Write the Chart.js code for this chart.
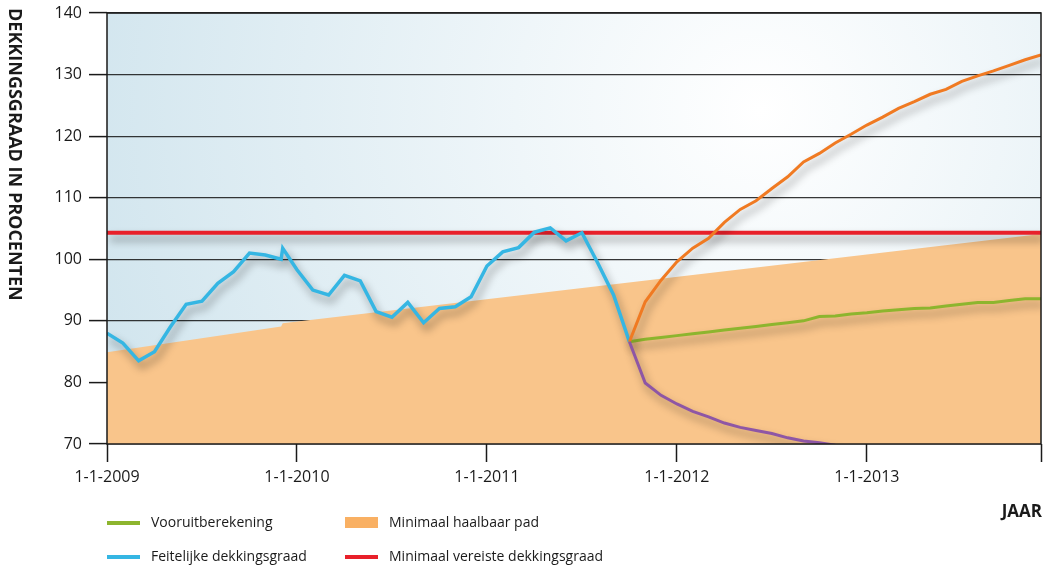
<!DOCTYPE html>
<html>
<head>
<meta charset="utf-8">
<script src="https://cdn.jsdelivr.net/npm/chart.js@4/dist/chart.umd.min.js"></script>
<style>
  body { margin: 0; background: #fff; }
  #grafiek { display: block; }
</style>
</head>
<body>
<canvas id="grafiek" width="1043" height="569"></canvas>
<script>
// maanden geteld vanaf 1-1-2009 (0 = jan 2009, 59 = dec 2013)
const tickMaanden = [0, 12, 24, 36, 48, 59];
const tickLabels = ["1-1-2009", "1-1-2010", "1-1-2011", "1-1-2012", "1-1-2013", ""];

const feitelijkMaand = [0, 1, 2, 3, 4, 5, 6, 7, 8, 9, 10, 11, 11.1, 12, 13, 14, 15, 16, 17, 18, 19, 20, 21, 22, 23, 24, 25, 26, 27, 28, 29, 30, 31, 32, 33];
const feitelijkWaarde = [88.0, 86.4, 83.5, 85.0, 89.0, 92.7, 93.2, 96.1, 98.0, 101.0, 100.7, 100.0, 101.8, 98.3, 95.0, 94.2, 97.4, 96.5, 91.5, 90.6, 93.0, 89.7, 92.0, 92.3, 93.9, 98.9, 101.2, 101.9, 104.4, 105.1, 103.0, 104.3, 99.4, 94.2, 86.6];

const padMaand = [0, 11, 11.1, 59];
const padWaarde = [84.9, 89.1, 89.6, 104.1];

const vereistMaand = [0, 59];
const vereistWaarde = [104.3, 104.3];

const prognoseMaand = [33, 34, 35, 36, 37, 38, 39, 40, 41, 42, 43, 44, 45, 46, 47, 48, 49, 50, 51, 52, 53, 54, 55, 56, 57, 58, 59];
const vooruitWaarde = [86.6, 87.0, 87.3, 87.6, 87.9, 88.2, 88.5, 88.8, 89.1, 89.4, 89.7, 90.0, 90.7, 90.8, 91.1, 91.3, 91.6, 91.8, 92.0, 92.1, 92.4, 92.7, 93.0, 93.0, 93.3, 93.6, 93.6];
const optimistischWaarde = [86.6, 93.1, 96.6, 99.6, 101.8, 103.4, 106.0, 108.1, 109.5, 111.5, 113.4, 115.8, 117.2, 118.9, 120.3, 121.8, 123.1, 124.5, 125.6, 126.8, 127.6, 128.9, 129.8, 130.6, 131.5, 132.4, 133.2];

const pessimistischMaand = [33, 34, 35, 36, 37, 38, 39, 40, 41, 42, 43, 44, 45, 46];
const pessimistischWaarde = [86.6, 79.9, 77.9, 76.5, 75.3, 74.4, 73.4, 72.7, 72.2, 71.7, 71.0, 70.5, 70.2, 69.8];

const legendaItems = [
  { tekst: "Vooruitberekening", kleur: "#8db52e", type: "lijn", kolom: 0, rij: 0 },
  { tekst: "Minimaal haalbaar pad", kleur: "#f9b063", type: "vlak", kolom: 1, rij: 0 },
  { tekst: "Feitelijke dekkingsgraad", kleur: "#35b6e3", type: "lijn", kolom: 0, rij: 1 },
  { tekst: "Minimaal vereiste dekkingsgraad", kleur: "#e8202a", type: "lijn", kolom: 1, rij: 1 }
];

function punten(xs, ys) {
  return xs.map((x, i) => ({ x: x, y: ys[i] }));
}

const achtergrond = {
  id: "achtergrond",
  beforeDraw(chart) {
    const { ctx, chartArea: a } = chart;
    const g = ctx.createRadialGradient(760, 110, 0, 760, 110, 700);
    g.addColorStop(0, "#ffffff");
    g.addColorStop(1, "#d1e5ee");
    ctx.save();
    ctx.fillStyle = g;
    ctx.fillRect(a.left, a.top, a.right - a.left, a.bottom - a.top);
    ctx.restore();
  }
};

// schaduw onder de lijnen
const schaduw = {
  id: "schaduw",
  beforeDatasetDraw(chart, args) {
    const ds = chart.data.datasets[args.index];
    chart.ctx.save();
    if (!ds.fill) {
      chart.ctx.shadowColor = "rgba(0,0,0,0.4)";
      chart.ctx.shadowBlur = 8;
      chart.ctx.shadowOffsetX = 3;
      chart.ctx.shadowOffsetY = 6;
    }
  },
  afterDatasetDraw(chart) {
    chart.ctx.restore();
  }
};

const kader = {
  id: "kader",
  afterDatasetsDraw(chart) {
    const { ctx, chartArea: a } = chart;
    ctx.save();
    ctx.strokeStyle = "#1a1a1a";
    ctx.lineWidth = 1.5;
    ctx.strokeRect(a.left, a.top, a.right - a.left, a.bottom - a.top);
    ctx.restore();
  }
};

const teksten = {
  id: "teksten",
  afterDraw(chart) {
    const ctx = chart.ctx;
    ctx.save();
    ctx.fillStyle = "#1a1a1a";
    // as-titel, van boven naar beneden
    ctx.translate(14, 8);
    ctx.rotate(Math.PI / 2);
    ctx.font = "bold 18px 'Open Sans'";
    ctx.textAlign = "left";
    ctx.textBaseline = "middle";
    ctx.fillText("DEKKINGSGRAAD IN PROCENTEN", 0, 0);
    ctx.restore();

    ctx.save();
    ctx.fillStyle = "#1a1a1a";
    ctx.font = "bold 17px 'Open Sans'";
    ctx.textAlign = "right";
    ctx.textBaseline = "middle";
    ctx.fillText("JAAR", 1042, 512);

    ctx.font = "14px 'Open Sans'";
    ctx.textAlign = "left";
    legendaItems.forEach(item => {
      const x = item.kolom === 0 ? 107 : 345;
      const y = item.rij === 0 ? 523 : 557;
      if (item.type === "lijn") {
        ctx.strokeStyle = item.kleur;
        ctx.lineWidth = 4;
        ctx.beginPath();
        ctx.moveTo(x, y);
        ctx.lineTo(x + 33, y);
        ctx.stroke();
      } else {
        ctx.fillStyle = item.kleur;
        ctx.fillRect(x, y - 6, 33, 11);
      }
      ctx.fillStyle = "#1a1a1a";
      ctx.fillText(item.tekst, x + 44, y);
    });
    ctx.restore();
  }
};

const config = {
  type: "line",
  data: {
    datasets: [
      {
        label: "Minimaal vereiste dekkingsgraad",
        data: punten(vereistMaand, vereistWaarde),
        borderColor: "#e8202a",
        borderWidth: 4,
        order: 5
      },
      {
        label: "Feitelijke dekkingsgraad",
        data: punten(feitelijkMaand, feitelijkWaarde),
        borderColor: "#35b6e3",
        borderWidth: 3.5,
        order: 4
      },
      {
        label: "Vooruitberekening",
        data: punten(prognoseMaand, vooruitWaarde),
        borderColor: "#8db52e",
        borderWidth: 3,
        order: 3
      },
      {
        label: "Optimistisch",
        data: punten(prognoseMaand, optimistischWaarde),
        borderColor: "#f07a22",
        borderWidth: 3,
        order: 2
      },
      {
        label: "Pessimistisch",
        data: punten(pessimistischMaand, pessimistischWaarde),
        borderColor: "#8e56a5",
        borderWidth: 3,
        order: 1
      },
      {
        label: "Minimaal haalbaar pad",
        data: punten(padMaand, padWaarde),
        borderWidth: 0,
        borderColor: "rgba(0,0,0,0)",
        backgroundColor: "#f9c58b",
        fill: "start",
        order: 10
      }
    ]
  },
  options: {
    responsive: false,
    animation: false,
    layout: { padding: { top: 13, right: 2, left: 0, bottom: 0 } },
    elements: {
      point: { radius: 0 },
      line: { tension: 0, borderJoinStyle: "miter" }
    },
    plugins: {
      legend: { display: false },
      tooltip: { enabled: false }
    },
    scales: {
      x: {
        type: "linear",
        min: 0,
        max: 59,
        afterBuildTicks: scale => {
          scale.ticks = tickMaanden.map(v => ({ value: v }));
        },
        afterFit: scale => {
          scale.height = 125;
          scale.paddingLeft = 0;
          scale.paddingRight = 0;
        },
        ticks: {
          autoSkip: false,
          maxRotation: 0,
          padding: 6,
          color: "#1a1a1a",
          font: { family: "'Open Sans'", size: 16 },
          callback: (v, i) => tickLabels[i]
        },
        grid: {
          drawOnChartArea: false,
          tickLength: 18,
          tickColor: "#1a1a1a",
          tickWidth: 1.5
        },
        border: { display: false }
      },
      y: {
        min: 70,
        max: 140,
        afterFit: scale => {
          scale.width = 107;
          scale.paddingTop = 0;
          scale.paddingBottom = 0;
        },
        ticks: {
          stepSize: 10,
          padding: 7,
          color: "#1a1a1a",
          font: { family: "'Open Sans'", size: 16 }
        },
        grid: {
          color: "rgba(20,20,20,0.85)",
          lineWidth: 1.2,
          tickLength: 18,
          tickColor: "#1a1a1a",
          tickWidth: 1.5
        },
        border: { display: false }
      }
    }
  },
  plugins: [achtergrond, schaduw, kader, teksten]
};

new Chart(document.getElementById("grafiek"), config);
</script>
</body>
</html>
